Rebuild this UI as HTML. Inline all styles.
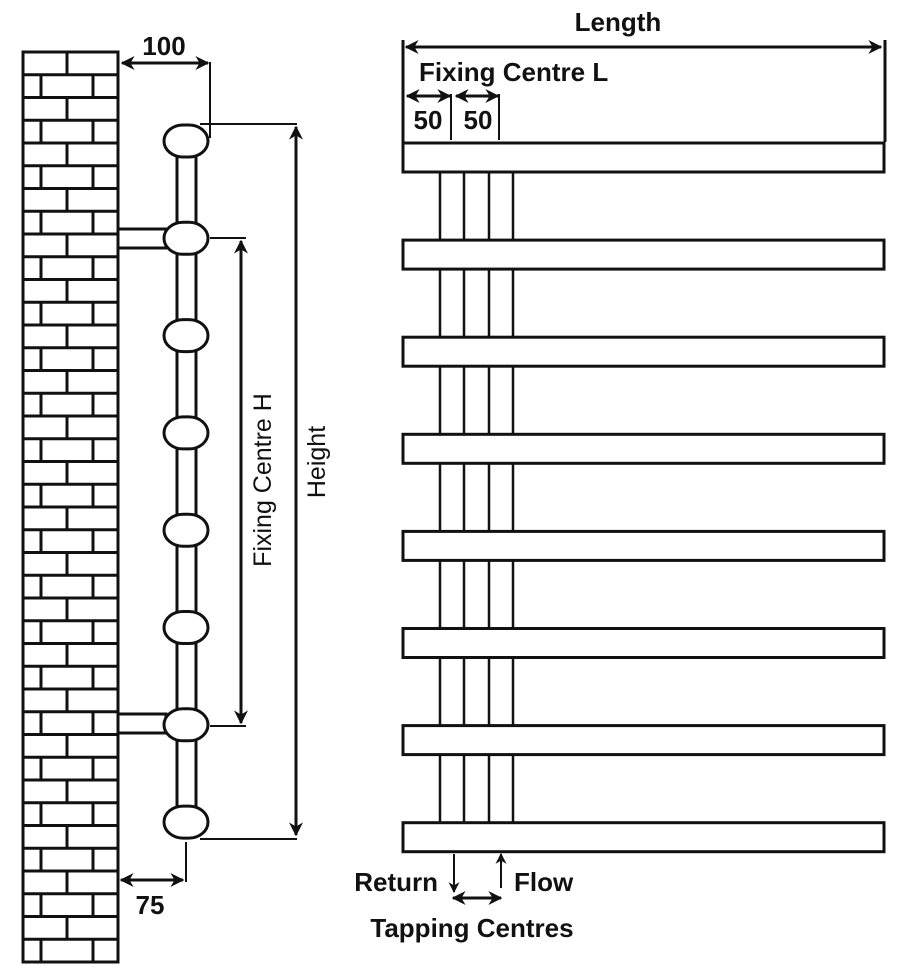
<!DOCTYPE html>
<html><head><meta charset="utf-8"><style>
html,body{margin:0;padding:0;background:#fff;}
svg{display:block;}
text{font-family:"Liberation Sans",sans-serif;fill:#111;}
.b{font-weight:bold;font-size:26px;}
</style></head><body>
<svg width="910" height="980" viewBox="0 0 910 980" xmlns="http://www.w3.org/2000/svg">
<defs>
<marker id="a" viewBox="0 0 10 10" refX="9" refY="5" markerWidth="16" markerHeight="14" orient="auto-start-reverse" markerUnits="userSpaceOnUse"><path d="M0,0 L10,5 L0,10 L3,5 z" fill="#111"/></marker>
<marker id="s" viewBox="0 0 10 10" refX="9" refY="5" markerWidth="12" markerHeight="11" orient="auto-start-reverse" markerUnits="userSpaceOnUse"><path d="M0,0 L10,5 L0,10 L3,5 z" fill="#111"/></marker>
</defs>
<g stroke="#111" fill="none">
<rect x="23" y="52" width="95" height="910" stroke-width="3"/>
<g stroke-width="3" id="bricks"></g>
<rect x="118" y="229" width="48" height="19" stroke-width="3" fill="#fff"/>
<rect x="118" y="714" width="48" height="19" stroke-width="3" fill="#fff"/>
<rect x="177" y="140" width="19" height="682" stroke-width="3" fill="#fff"/>
<g id="balls" stroke-width="3" fill="#fff"></g>
<line x1="122" y1="63" x2="208" y2="63" stroke-width="3" marker-start="url(#a)" marker-end="url(#a)"/>
<line x1="210" y1="62" x2="210" y2="138" stroke-width="2"/>
<line x1="200" y1="124" x2="297" y2="124" stroke-width="2"/>
<line x1="200" y1="839" x2="297" y2="839" stroke-width="2"/>
<line x1="296" y1="127" x2="296" y2="835" stroke-width="3" marker-start="url(#a)" marker-end="url(#a)"/>
<line x1="210" y1="238" x2="246" y2="238" stroke-width="2"/>
<line x1="210" y1="726" x2="246" y2="726" stroke-width="2"/>
<line x1="241" y1="241" x2="241" y2="723" stroke-width="3" marker-start="url(#a)" marker-end="url(#a)"/>
<line x1="186" y1="842" x2="186" y2="882" stroke-width="2"/>
<line x1="121" y1="880" x2="183" y2="880" stroke-width="3" marker-start="url(#a)" marker-end="url(#a)"/>
<g id="verts" stroke-width="2.5"></g>
<g id="rails" stroke-width="3" fill="#fff"></g>
<line x1="403" y1="40" x2="403" y2="142" stroke-width="3"/>
<line x1="885" y1="40" x2="885" y2="142" stroke-width="3"/>
<line x1="406" y1="47" x2="881" y2="47" stroke-width="3" marker-start="url(#a)" marker-end="url(#a)"/>
<line x1="451" y1="94" x2="451" y2="140" stroke-width="2"/>
<line x1="499" y1="94" x2="499" y2="140" stroke-width="2"/>
<line x1="407" y1="96" x2="450" y2="96" stroke-width="3" marker-start="url(#a)" marker-end="url(#a)"/>
<line x1="456" y1="96" x2="498" y2="96" stroke-width="3" marker-start="url(#a)" marker-end="url(#a)"/>
<line x1="454" y1="854" x2="454" y2="892" stroke-width="2" marker-end="url(#s)"/>
<line x1="501" y1="888" x2="501" y2="854" stroke-width="2" marker-end="url(#s)"/>
<line x1="453" y1="898" x2="501" y2="898" stroke-width="3" marker-start="url(#a)" marker-end="url(#a)"/>
</g>
<text class="b" x="164" y="55" text-anchor="middle">100</text>
<text class="b" x="150" y="914" text-anchor="middle">75</text>
<text class="b" x="618" y="31" text-anchor="middle">Length</text>
<text class="b" x="419" y="81">Fixing Centre L</text>
<text class="b" x="428" y="129" text-anchor="middle">50</text>
<text class="b" x="478" y="129" text-anchor="middle">50</text>
<text class="b" x="438" y="891" text-anchor="end">Return</text>
<text class="b" x="514" y="891">Flow</text>
<text class="b" x="472" y="937" text-anchor="middle">Tapping Centres</text>
<text x="0" y="0" font-size="25" text-anchor="middle" transform="translate(271,480) rotate(-90)">Fixing Centre H</text>
<text x="0" y="0" font-size="25" text-anchor="middle" transform="translate(325,462) rotate(-90)">Height</text>
<script>
(function(){
var ns="http://www.w3.org/2000/svg";
function el(p,t,a){var e=document.createElementNS(ns,t);for(var k in a)e.setAttribute(k,a[k]);p.appendChild(e);}
var br=document.getElementById("bricks"),h=910/40;
for(var i=0;i<40;i++){var y=52+i*h;
 if(i>0)el(br,"line",{x1:23,x2:118,y1:y,y2:y});
 if(i%2==0)el(br,"line",{x1:67,x2:67,y1:y,y2:y+h});
 else{el(br,"line",{x1:41,x2:41,y1:y,y2:y+h});el(br,"line",{x1:93,x2:93,y1:y,y2:y+h});}
}
var b=document.getElementById("balls");
for(var j=0;j<8;j++){var cy=141+j*97.3;el(b,"rect",{x:164,y:cy-16,width:44,height:32,rx:19,ry:16});}
var v=document.getElementById("verts");
[440,464,489,513].forEach(function(x){el(v,"line",{x1:x,x2:x,y1:150,y2:825});});
var r=document.getElementById("rails");
for(var k=0;k<8;k++){var y=143+k*97.1;el(r,"rect",{x:403,y:y,width:481,height:29});}
})();
</script>
</svg>
</body></html>
